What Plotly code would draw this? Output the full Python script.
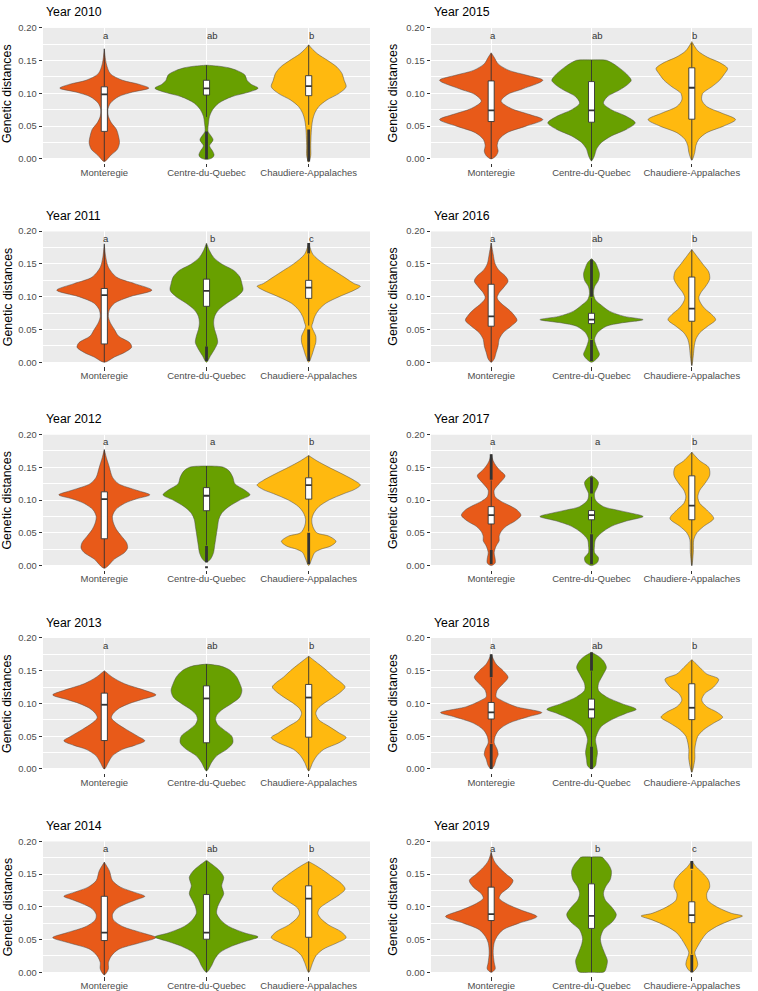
import plotly.graph_objects as go

# ---------------- data ----------------
REGIONS = ["Monteregie", "Centre-du-Quebec", "Chaudiere-Appalaches"]
COLORS = ["#E85A19", "#68A000", "#FFB90F"]
YEARS = [2010, 2011, 2012, 2013, 2014, 2015, 2016, 2017, 2018, 2019]
LETTERS = [["a", "ab", "b"], ["a", "b", "c"], ["a", "a", "b"], ["a", "ab", "b"], ["a", "ab", "b"],
           ["a", "ab", "b"], ["a", "ab", "b"], ["a", "a", "b"], ["a", "ab", "b"], ["a", "b", "c"]]
Y_TICKS = [0.0, 0.05, 0.10, 0.15, 0.20]
Y_MINOR = [0.025, 0.075, 0.125, 0.175]

# violin density profiles: (genetic distance, relative density width)
VIOLIN_2010 = [
    [(-0.004, 0), (0.005, 6), (0.015, 13), (0.025, 15), (0.035, 14), (0.045, 12), (0.055, 7), (0.065, 4), (0.075, 3.5),
     (0.085, 6), (0.095, 14), (0.102, 28), (0.108, 44), (0.114, 34), (0.12, 18), (0.13, 6), (0.145, 2), (0.168, 0)],
    [(-0.001, 0), (0.002, 6), (0.006, 7.5), (0.012, 6), (0.02, 3), (0.029, 6.5), (0.036, 4), (0.042, 1.5), (0.055, 2),
     (0.065, 3), (0.075, 6), (0.085, 12), (0.095, 25), (0.102, 42), (0.108, 51), (0.114, 44), (0.12, 40), (0.128, 38),
     (0.135, 30), (0.139, 22), (0.1415, 12), (0.143, 0)],
    [(-0.005, 0), (0.005, 2), (0.02, 2), (0.04, 2.5), (0.05, 3), (0.06, 4), (0.07, 6), (0.08, 10), (0.09, 18), (0.1, 30),
     (0.11, 37), (0.12, 35), (0.13, 33), (0.14, 28), (0.15, 19), (0.16, 9), (0.167, 4), (0.174, 0)],
]
VIOLIN_2011 = [
    [(0.0, 0), (0.008, 10), (0.015, 20), (0.023, 27), (0.03, 25), (0.04, 14), (0.05, 10), (0.06, 6), (0.07, 4), (0.08, 5),
     (0.09, 10), (0.1, 25), (0.11, 47), (0.12, 30), (0.13, 12), (0.145, 4), (0.16, 1.5), (0.18, 0)],
    [(0.0, 0), (0.01, 4), (0.02, 8), (0.03, 11), (0.04, 10), (0.05, 8), (0.06, 7), (0.07, 8), (0.08, 12), (0.09, 20),
     (0.1, 30), (0.11, 36), (0.12, 35), (0.13, 33), (0.14, 27), (0.15, 15), (0.16, 7), (0.17, 3), (0.182, 0)],
    [(0.0, 0), (0.01, 3), (0.02, 5), (0.03, 7), (0.04, 7), (0.047, 5), (0.055, 3), (0.06, 4), (0.07, 6), (0.08, 10),
     (0.09, 17), (0.1, 30), (0.11, 45), (0.116, 51), (0.12, 45), (0.13, 35), (0.14, 25), (0.15, 15), (0.165, 4), (0.182, 0)],
]
VIOLIN_2012 = [
    [(-0.004, 0), (0.01, 10), (0.02, 20), (0.027, 23), (0.035, 22), (0.045, 17), (0.055, 12), (0.065, 9), (0.075, 8),
     (0.085, 11), (0.095, 20), (0.102, 32), (0.108, 45), (0.115, 32), (0.125, 14), (0.135, 8), (0.15, 5), (0.165, 2), (0.177, 0)],
    [(0.005, 0), (0.01, 4), (0.02, 7), (0.03, 8), (0.04, 9), (0.05, 10), (0.06, 11), (0.07, 12), (0.08, 15), (0.09, 22),
     (0.1, 33), (0.108, 43), (0.115, 38), (0.125, 28), (0.135, 26), (0.145, 22), (0.1505, 16), (0.152, 0)],
    [(0.0, 0), (0.01, 3), (0.02, 6), (0.025, 12), (0.03, 22), (0.037, 27), (0.045, 20), (0.05, 8), (0.06, 4), (0.07, 3),
     (0.08, 5), (0.09, 10), (0.1, 20), (0.11, 35), (0.116, 45), (0.123, 51), (0.13, 45), (0.14, 33), (0.15, 20), (0.16, 8), (0.168, 0)],
]
VIOLIN_2013 = [
    [(0.0, 0), (0.01, 4), (0.02, 8), (0.03, 18), (0.036, 30), (0.043, 40), (0.05, 33), (0.06, 22), (0.07, 12), (0.078, 7),
     (0.085, 9), (0.093, 15), (0.1, 25), (0.106, 37), (0.113, 51), (0.12, 40), (0.13, 20), (0.14, 8), (0.15, 0)],
    [(-0.003, 0), (0.01, 5), (0.02, 10), (0.03, 20), (0.04, 26), (0.05, 25), (0.06, 17), (0.068, 11), (0.075, 9),
     (0.082, 10), (0.09, 15), (0.1, 25), (0.11, 33), (0.12, 35), (0.13, 33), (0.14, 30), (0.15, 24), (0.157, 14), (0.16, 0)],
    [(-0.003, 0), (0.01, 4), (0.02, 8), (0.03, 15), (0.04, 30), (0.048, 37), (0.055, 30), (0.065, 20), (0.075, 10),
     (0.085, 7), (0.092, 9), (0.1, 15), (0.11, 25), (0.118, 32), (0.125, 36), (0.132, 32), (0.14, 25), (0.15, 18), (0.16, 10), (0.172, 0)],
]
VIOLIN_2014 = [
    [(-0.004, 0), (0.005, 4), (0.015, 4), (0.025, 7), (0.035, 14), (0.045, 35), (0.053, 51), (0.06, 38), (0.07, 18),
     (0.08, 9), (0.088, 8), (0.097, 12), (0.105, 22), (0.111, 32), (0.116, 40), (0.122, 30), (0.13, 16), (0.14, 8), (0.155, 5), (0.168, 0)],
    [(0.0, 0), (0.01, 5), (0.02, 8), (0.03, 13), (0.04, 25), (0.047, 38), (0.054, 51), (0.06, 38), (0.07, 22), (0.08, 14),
     (0.09, 10), (0.1, 11), (0.11, 14), (0.12, 17), (0.132, 15), (0.145, 17), (0.155, 13), (0.163, 7), (0.171, 0)],
    [(0.0, 0), (0.015, 4), (0.025, 7), (0.035, 14), (0.045, 28), (0.053, 37), (0.062, 32), (0.072, 20), (0.082, 12),
     (0.09, 9), (0.098, 11), (0.108, 20), (0.118, 30), (0.127, 36), (0.136, 32), (0.145, 24), (0.155, 15), (0.163, 7), (0.169, 0)],
]
VIOLIN_2015 = [
    [(0.0, 0), (0.005, 5), (0.012, 7), (0.02, 6), (0.03, 8), (0.04, 16), (0.05, 35), (0.06, 52), (0.068, 38), (0.077, 20),
     (0.088, 10), (0.098, 16), (0.107, 32), (0.12, 52), (0.128, 35), (0.135, 18), (0.145, 7), (0.155, 3), (0.162, 0)],
    [(-0.003, 0), (0.005, 3), (0.015, 5), (0.025, 10), (0.035, 20), (0.045, 35), (0.055, 44), (0.065, 35), (0.075, 20),
     (0.085, 12), (0.095, 16), (0.105, 28), (0.113, 36), (0.12, 40), (0.13, 35), (0.14, 27), (0.147, 20), (0.1505, 15), (0.151, 0)],
    [(-0.002, 0), (0.01, 3), (0.02, 4), (0.03, 7), (0.04, 15), (0.05, 32), (0.06, 44), (0.07, 30), (0.08, 15), (0.09, 10),
     (0.1, 11), (0.11, 20), (0.12, 28), (0.13, 33), (0.138, 36), (0.147, 28), (0.155, 16), (0.165, 6), (0.179, 0)],
]
VIOLIN_2016 = [
    [(0.0, 0), (0.005, 3), (0.015, 5), (0.025, 7), (0.035, 8), (0.045, 12), (0.055, 20), (0.064, 26), (0.072, 23), (0.08, 18),
     (0.09, 10), (0.098, 6), (0.106, 8), (0.115, 13), (0.124, 17), (0.132, 14), (0.14, 8), (0.15, 4), (0.165, 2), (0.182, 0)],
    [(0.0, 0), (0.005, 5), (0.012, 8), (0.02, 6), (0.028, 4), (0.035, 3), (0.045, 6), (0.055, 15), (0.06, 30), (0.065, 52),
     (0.07, 33), (0.078, 18), (0.087, 10), (0.095, 4), (0.105, 2), (0.115, 3), (0.125, 7), (0.135, 8), (0.145, 6), (0.152, 4), (0.158, 0)],
    [(-0.005, 0), (0.01, 1.5), (0.025, 2.5), (0.035, 4), (0.045, 8), (0.055, 16), (0.065, 24), (0.073, 20), (0.082, 13),
     (0.09, 9), (0.098, 7), (0.106, 9), (0.116, 14), (0.127, 18), (0.138, 17), (0.148, 12), (0.16, 6), (0.172, 0)],
]
VIOLIN_2017 = [
    [(0.0, 0), (0.004, 4), (0.01, 4), (0.02, 3), (0.03, 5), (0.038, 8), (0.045, 8), (0.052, 10), (0.06, 15), (0.068, 24),
     (0.077, 30), (0.085, 26), (0.092, 18), (0.098, 10), (0.105, 4), (0.115, 3), (0.125, 8), (0.137, 14), (0.145, 9),
     (0.152, 5), (0.16, 2), (0.17, 0)],
    [(0.0, 0), (0.005, 6), (0.012, 7), (0.02, 3), (0.03, 3), (0.04, 4), (0.05, 10), (0.06, 20), (0.068, 35), (0.075, 52),
     (0.08, 40), (0.085, 25), (0.09, 12), (0.1, 4), (0.11, 3), (0.12, 6), (0.127, 7), (0.133, 4), (0.137, 0)],
    [(0.0, 0), (0.02, 1.5), (0.04, 2), (0.05, 5), (0.06, 12), (0.072, 22), (0.085, 15), (0.095, 8), (0.105, 6), (0.115, 8),
     (0.125, 13), (0.138, 18), (0.15, 17), (0.16, 8), (0.173, 0)],
]
VIOLIN_2018 = [
    [(0.0, 0), (0.005, 3), (0.015, 5), (0.022, 7), (0.03, 6), (0.04, 3), (0.05, 4), (0.06, 8), (0.07, 18), (0.08, 38),
     (0.086, 51), (0.095, 25), (0.105, 10), (0.11, 5), (0.12, 6), (0.13, 12), (0.14, 17), (0.15, 12), (0.16, 5), (0.175, 0)],
    [(0.0, 0), (0.005, 4), (0.015, 5), (0.025, 6), (0.035, 5), (0.045, 4), (0.055, 6), (0.065, 10), (0.075, 20), (0.085, 35),
     (0.091, 45), (0.1, 30), (0.11, 15), (0.12, 7), (0.13, 7), (0.145, 12), (0.155, 15), (0.165, 12), (0.172, 7), (0.178, 0)],
    [(-0.005, 0), (0.015, 3), (0.03, 3), (0.04, 4), (0.05, 6), (0.06, 12), (0.07, 22), (0.079, 31), (0.087, 25), (0.095, 15),
     (0.105, 10), (0.115, 13), (0.125, 22), (0.137, 27), (0.145, 15), (0.155, 8), (0.167, 0)],
]
VIOLIN_2019 = [
    [(0.0, 0), (0.005, 4), (0.015, 3), (0.03, 2), (0.045, 3), (0.055, 6), (0.065, 12), (0.075, 28), (0.085, 46), (0.095, 30),
     (0.105, 15), (0.113, 8), (0.12, 10), (0.13, 18), (0.14, 22), (0.15, 15), (0.16, 8), (0.17, 3), (0.183, 0)],
    [(0.0, 0), (0.001, 13), (0.008, 15), (0.018, 16), (0.03, 13), (0.042, 10), (0.052, 9), (0.065, 12), (0.077, 21),
     (0.088, 25), (0.1, 20), (0.11, 14), (0.12, 12), (0.13, 14), (0.142, 19), (0.155, 20), (0.165, 17), (0.172, 13), (0.1755, 11), (0.176, 0)],
    [(0.0, 0), (0.005, 4), (0.012, 6), (0.02, 5), (0.03, 3), (0.04, 6), (0.05, 10), (0.06, 15), (0.07, 25), (0.08, 40),
     (0.086, 51), (0.09, 40), (0.1, 25), (0.11, 16), (0.12, 15), (0.13, 18), (0.14, 17), (0.15, 12), (0.16, 5), (0.17, 0)],
]

# box statistics: [lower whisker, q1, median, q3, upper whisker]
BOX_2010 = [[-0.004, 0.042, 0.0985, 0.110, 0.168], [0.064, 0.0975, 0.1075, 0.120, 0.143], [0.052, 0.0965, 0.111, 0.127, 0.174]]
BOX_2011 = [[0.0, 0.028, 0.1025, 0.1126, 0.181], [0.024, 0.0854, 0.109, 0.1268, 0.18], [0.056, 0.0975, 0.114, 0.125, 0.165]]
BOX_2012 = [[-0.004, 0.041, 0.1015, 0.1126, 0.177], [0.031, 0.0838, 0.1066, 0.119, 0.152], [0.052, 0.1015, 0.1227, 0.134, 0.168]]
BOX_2013 = [[0.0, 0.0434, 0.098, 0.1157, 0.149], [-0.003, 0.04, 0.1076, 0.1268, 0.16], [-0.003, 0.0485, 0.109, 0.129, 0.172]]
BOX_2014 = [[-0.004, 0.0485, 0.0606, 0.116, 0.168], [0.0, 0.0505, 0.0606, 0.1187, 0.17], [0.0, 0.0535, 0.1126, 0.132, 0.169]]
BOX_2015 = [[0.0, 0.057, 0.074, 0.119, 0.161], [-0.003, 0.056, 0.074, 0.118, 0.151], [-0.002, 0.0606, 0.1086, 0.139, 0.177]]
BOX_2016 = [[0.0, 0.055, 0.070, 0.119, 0.182], [0.0355, 0.059, 0.065, 0.0747, 0.098], [-0.005, 0.0626, 0.082, 0.13, 0.172]]
BOX_2017 = [[0.024, 0.0636, 0.077, 0.090, 0.13], [0.049, 0.070, 0.077, 0.084, 0.105], [0.0, 0.070, 0.0914, 0.137, 0.173]]
BOX_2018 = [[0.039, 0.0763, 0.0864, 0.1015, 0.139], [0.034, 0.0778, 0.091, 0.1066, 0.149], [-0.005, 0.0753, 0.0934, 0.130, 0.166]]
BOX_2019 = [[0.0, 0.079, 0.0889, 0.130, 0.183], [0.0, 0.067, 0.086, 0.135, 0.176], [0.028, 0.0758, 0.0874, 0.1076, 0.156]]

# ranges covered by densely packed outlier points
OUT_2010 = [[], [(0.0, 0.042)], [(-0.004, 0.045)]]
OUT_2011 = [[], [(0.002, 0.024)], [(0.002, 0.05), (0.166, 0.182)]]
OUT_2012 = [[], [(0.005, 0.03), (-0.004, -0.001)], [(0.002, 0.05)]]
OUT_2013 = [[], [], []]
OUT_2014 = [[], [], []]
OUT_2015 = [[], [], []]
OUT_2016 = [[], [(0.002, 0.034), (0.1, 0.157)], []]
OUT_2017 = [[(0.002, 0.024), (0.131, 0.17)], [(0.002, 0.048), (0.11, 0.135)], []]
OUT_2018 = [[(0.0, 0.038), (0.14, 0.175)], [(0.0, 0.034), (0.15, 0.178)], []]
OUT_2019 = [[], [], [(0.0, 0.027), (0.158, 0.17)]]

PANELS = {
    2010: (VIOLIN_2010, BOX_2010, OUT_2010), 2011: (VIOLIN_2011, BOX_2011, OUT_2011),
    2012: (VIOLIN_2012, BOX_2012, OUT_2012), 2013: (VIOLIN_2013, BOX_2013, OUT_2013),
    2014: (VIOLIN_2014, BOX_2014, OUT_2014), 2015: (VIOLIN_2015, BOX_2015, OUT_2015),
    2016: (VIOLIN_2016, BOX_2016, OUT_2016), 2017: (VIOLIN_2017, BOX_2017, OUT_2017),
    2018: (VIOLIN_2018, BOX_2018, OUT_2018), 2019: (VIOLIN_2019, BOX_2019, OUT_2019),
}

# ---------------- layout constants ----------------
W, H = 758, 991
FONT = "Liberation Sans, Arial, Helvetica, sans-serif"
YMIN, YMAX = -0.006, 0.20
DENS_SCALE = 1 / 101.0  # density width -> category units
BOX_HALF = 0.03
LETTER_SHIFT = [1.5, 6, 3]
EDGE = "#333333"

fig = go.Figure()
layout = {}
shapes = []
annotations = []


def line_trace(xs, ys, xn, yn, width, color=EDGE, fill=None, fillcolor=None, shape="linear"):
    return go.Scatter(x=xs, y=ys, mode="lines", fill=fill, fillcolor=fillcolor,
                      line=dict(color=color, width=width, shape=shape),
                      xaxis=xn, yaxis=yn, hoverinfo="skip", showlegend=False)


for k, year in enumerate(YEARS):
    row, col = k % 5, k // 5
    ax = k + 1
    xn = "x" if ax == 1 else f"x{ax}"
    yn = "y" if ax == 1 else f"y{ax}"
    top = 22 + 204.8 * row
    zero = 154 + 204.8 * row
    bot = zero + (0 - YMIN) / (YMAX - 0) * (zero - top)
    left, right = (43, 370) if col == 0 else (431, 752)

    violins, boxes, outs = PANELS[year]
    # violins
    for i, region in enumerate(REGIONS):
        c = i + 1
        prof = violins[i]
        ys = [p[0] for p in prof]
        ws = [p[1] * DENS_SCALE for p in prof]
        xs = [c + w for w in ws] + [c - w for w in reversed(ws)]
        yy = ys + list(reversed(ys))
        fig.add_trace(go.Scatter(
            x=xs, y=yy, mode="lines", fill="toself", fillcolor=COLORS[i],
            line=dict(color="#4a4a4a", width=0.5, shape="spline", smoothing=0.85),
            xaxis=xn, yaxis=yn, hoverinfo="skip", showlegend=False))
    # boxplots (whiskers, outliers, box, median)
    for i, region in enumerate(REGIONS):
        c = i + 1
        lo, q1, med, q3, hi = boxes[i]
        fig.add_trace(line_trace([c, c, None, c, c], [lo, q1, None, q3, hi], xn, yn, 0.9))
        for (a, b) in outs[i]:
            fig.add_trace(line_trace([c, c], [a, b], xn, yn, 2.8))
        fig.add_trace(line_trace(
            [c - BOX_HALF, c + BOX_HALF, c + BOX_HALF, c - BOX_HALF, c - BOX_HALF],
            [q1, q1, q3, q3, q1], xn, yn, 0.9, fill="toself", fillcolor="white"))
        fig.add_trace(line_trace([c - BOX_HALF, c + BOX_HALF], [med, med], xn, yn, 1.8))
        annotations.append(dict(
            x=c, y=0.189, xref=xn, yref=yn, text=LETTERS[k][i], showarrow=False,
            xshift=LETTER_SHIFT[i], font=dict(family=FONT, size=9.5, color=EDGE),
            xanchor="center", yanchor="middle"))

    layout[f"xaxis{ax}"] = dict(
        domain=[left / W, right / W], anchor=yn, range=[0.4, 3.6],
        tickvals=[1, 2, 3], ticktext=REGIONS, ticks="outside", ticklen=3.5,
        tickcolor=EDGE, tickwidth=1, showgrid=True, gridcolor="white", gridwidth=1.1,
        zeroline=False, showline=False, ticklabelstandoff=-3,
        tickfont=dict(family=FONT, size=9.5, color="#4D4D4D"), fixedrange=True)
    layout[f"yaxis{ax}"] = dict(
        domain=[1 - bot / H, 1 - top / H], anchor=xn, range=[YMIN, YMAX],
        tickvals=Y_TICKS, tickformat=".2f", ticks="outside", ticklen=3.5,
        tickcolor=EDGE, tickwidth=1, showgrid=True, gridcolor="white", gridwidth=1.1,
        minor=dict(tickvals=Y_MINOR, showgrid=True, gridcolor="white", gridwidth=0.5, ticks=""),
        zeroline=False, showline=False,
        tickfont=dict(family=FONT, size=9.4, color="#4D4D4D"), fixedrange=True)
    shapes.append(dict(type="rect", xref=f"{xn} domain", yref=yn, x0=0, x1=1, y0=0, y1=YMAX,
                       fillcolor="#EBEBEB", line=dict(width=0), layer="below"))
    annotations.append(dict(
        x=left / W, y=1 - (top - 15.5) / H, xref="paper", yref="paper", text=f"Year {year}",
        showarrow=False, xanchor="left", yanchor="middle", xshift=1,
        font=dict(family=FONT, size=12.3, color="black")))
    annotations.append(dict(
        x=(7.5 if col == 0 else 393) / W, y=1 - ((top + zero) / 2) / H, xref="paper", yref="paper",
        text="Genetic distances", textangle=-90, showarrow=False, xanchor="center", yanchor="middle",
        font=dict(family=FONT, size=12.4, color="black")))

fig.update_layout(
    width=W, height=H, margin=dict(l=0, r=0, t=0, b=0),
    paper_bgcolor="white", plot_bgcolor="white", showlegend=False,
    shapes=shapes, annotations=annotations, **layout)

fig.write_html("out.html", config={"displayModeBar": False},
               post_script="document.body.style.margin='0';document.body.style.overflow='hidden';")
